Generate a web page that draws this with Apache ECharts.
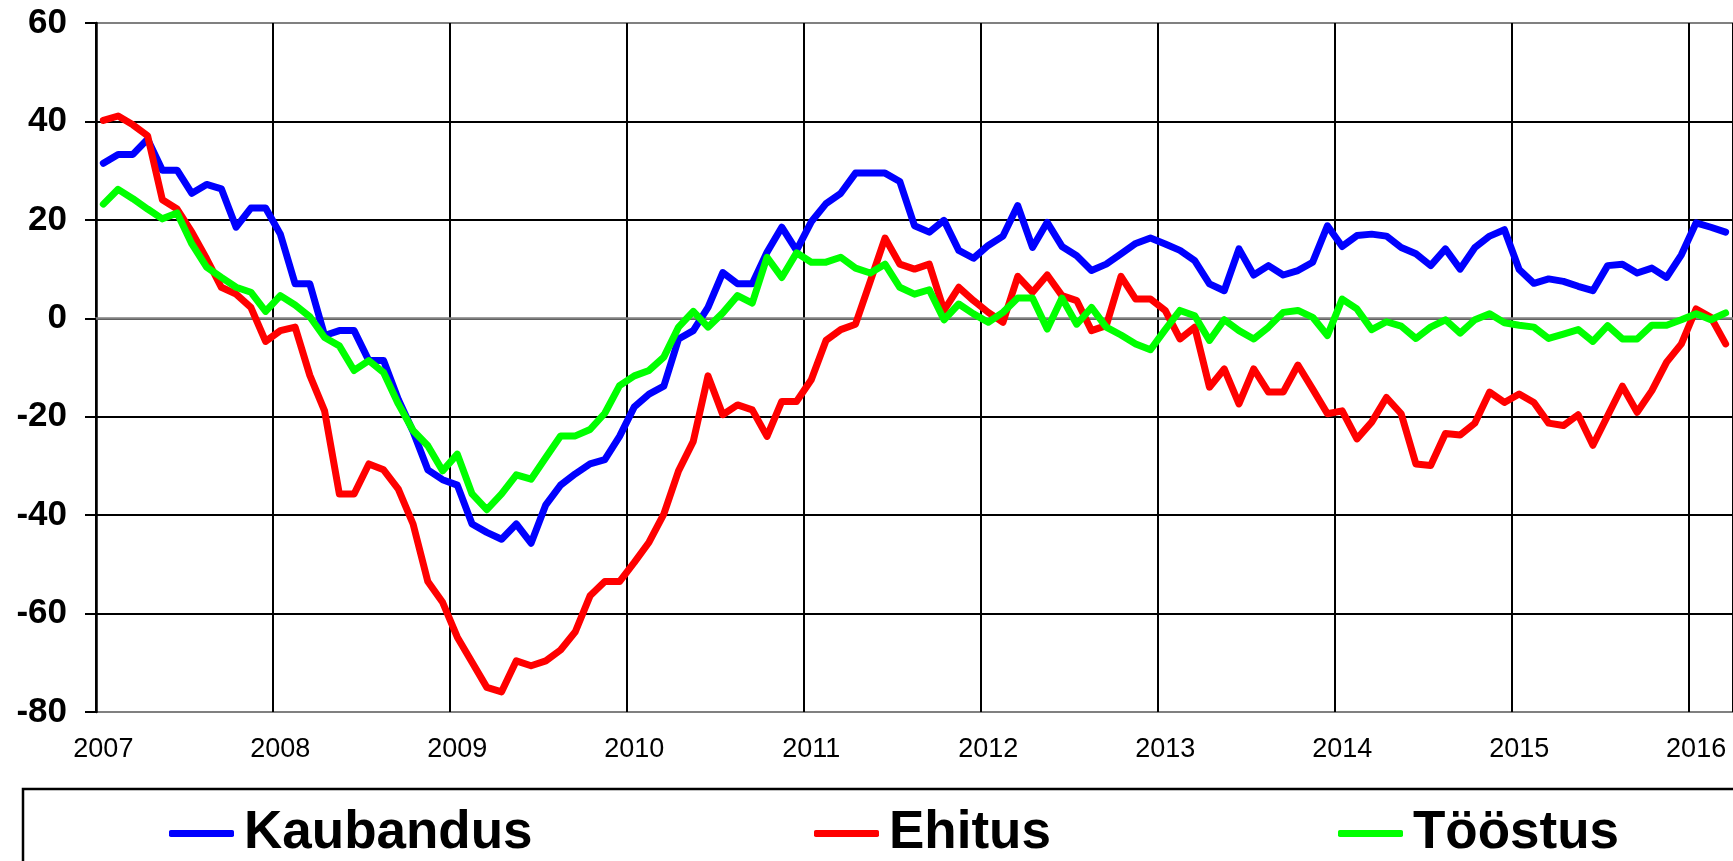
<!DOCTYPE html>
<html>
<head>
<meta charset="utf-8">
<script src="https://cdn.jsdelivr.net/npm/echarts@6/dist/echarts.min.js"></script>
<style>
  html, body { margin: 0; padding: 0; background: #fff; }
  #chart { width: 1733px; height: 861px; }
</style>
</head>
<body>
<div id="chart"></div>
<script>
  // kuud 2007 jaanuar ... 2016 märts
  const years = ['2007', '2008', '2009', '2010', '2011', '2012', '2013', '2014', '2015', '2016']
  const months = ['01', '02', '03', '04', '05', '06', '07', '08', '09', '10', '11', '12']
  const lastMonthCount = 3

  const kaubandus = [
    31.5, 33.3, 33.3, 36.4, 30.1, 30.1, 25.4, 27.2, 26.3, 18.5, 22.4, 22.4,
    17.1, 7.0, 7.0, -3.5, -2.5, -2.5, -8.6, -8.6, -16.5, -23, -30.8, -32.8,
    -33.9, -41.8, -43.5, -44.9, -41.8, -45.7, -37.9, -33.9, -31.6, -29.6, -28.7, -24.0,
    -18.0, -15.4, -13.8, -4.2, -2.5, 2.2, 9.3, 7.0, 7.0, 13.4, 18.5, 13.8,
    19.6, 23.3, 25.4, 29.5, 29.5, 29.5, 27.8, 18.8, 17.5, 19.9, 13.8, 12.2,
    14.8, 16.7, 22.9, 14.4, 19.5, 14.6, 12.7, 9.7, 11.0, 13.1, 15.2, 16.3,
    15.1, 13.8, 11.7, 7.0, 5.6, 14.1, 8.8, 10.7, 8.8, 9.7, 11.4, 18.8,
    14.6, 16.8, 17.1, 16.7, 14.4, 13.1, 10.7, 14.1, 10.0, 14.4, 16.7, 18.0,
    9.9, 7.1, 8.0, 7.5, 6.5, 5.6, 10.7, 11.0, 9.2, 10.2, 8.3, 12.9,
    19.4, 18.5, 17.5
  ]
  const ehitus = [
    40.2, 41.1, 39.3, 37.1, 24.1, 22.2, 17.5, 12.1, 6.3, 4.9, 2.2, -4.7,
    -2.5, -1.8, -11.6, -18.8, -35.7, -35.7, -29.6, -30.8, -34.7, -41.8, -53.5, -57.7,
    -64.8, -69.9, -75.0, -75.9, -69.6, -70.6, -69.6, -67.4, -63.7, -56.4, -53.5, -53.5,
    -49.6, -45.5, -39.8, -31.0, -25.0, -11.7, -19.6, -17.6, -18.6, -24.0, -16.9, -16.9,
    -12.5, -4.5, -2.3, -1.2, 7.5, 16.3, 11.0, 10.0, 11.0, 1.6, 6.3, 3.6,
    1.2, -0.8, 8.5, 5.3, 8.8, 4.6, 3.6, -2.5, -1.5, 8.5, 3.9, 3.9,
    1.6, -4.2, -1.8, -14.0, -10.3, -17.4, -10.3, -15.0, -15.0, -9.5, -14.4, -19.4,
    -18.8, -24.5, -21.1, -16.1, -19.4, -29.6, -29.9, -23.4, -23.7, -21.3, -15.0, -17.1,
    -15.4, -17.1, -21.3, -21.8, -19.6, -25.8, -19.8, -13.8, -19.1, -14.7, -8.9, -5.2,
    1.9, 0.2, -5.2
  ]
  const toostus = [
    23.2, 26.2, 24.3, 22.2, 20.2, 21.4, 15.1, 10.4, 8.3, 6.3, 5.3, 1.4,
    4.6, 2.7, 0.3, -3.9, -5.6, -10.6, -8.6, -11.0, -17.4, -22.8, -25.9, -31.0,
    -27.6, -35.7, -38.9, -35.7, -31.8, -32.7, -28.3, -23.9, -23.9, -22.6, -19.3, -13.7,
    -11.7, -10.6, -7.9, -1.8, 1.4, -1.8, 1.1, 4.6, 3.1, 12.4, 8.3, 13.3,
    11.4, 11.4, 12.4, 10.2, 9.2, 11.0, 6.3, 4.9, 5.8, -0.3, 2.9, 0.9,
    -0.8, 1.2, 4.1, 4.1, -2.2, 4.1, -1.2, 2.2, -1.8, -3.4, -5.2, -6.4,
    -2.3, 1.6, 0.5, -4.5, -0.3, -2.5, -4.2, -1.8, 1.2, 1.6, 0.2, -3.5,
    3.9, 1.9, -2.3, -0.7, -1.6, -4.1, -1.8, -0.3, -3.0, -0.3, 0.9, -0.9,
    -1.4, -1.8, -4.1, -3.2, -2.3, -4.7, -1.5, -4.2, -4.2, -1.4, -1.4, -0.3,
    0.9, -0.3, 1.1
  ]

  const categories = []
  years.forEach((y, yi) => {
    const n = yi === years.length - 1 ? lastMonthCount : 12
    for (let m = 0; m < n; m++) {
      categories.push(y + '-' + months[m])
    }
  })

  const chart = echarts.init(document.getElementById('chart'))

  const legendText = {
    fontFamily: 'Liberation Sans, Arial, sans-serif',
    fontWeight: 'bold',
    fontSize: 53,
    color: '#000',
    padding: [0, 0, 0, 5]
  }
  function legendAt(name, left) {
    return {
      data: [name],
      left: left,
      top: 802,
      icon: 'roundRect',
      itemWidth: 65,
      itemHeight: 7,
      textStyle: legendText,
      selectedMode: false
    }
  }

  const seriesLine = (name, data, color) => ({
    name: name,
    type: 'line',
    symbol: 'none',
    data: data,
    itemStyle: {color: color},
    lineStyle: {color: color, width: 7, join: 'round', cap: 'round'}
  })

  chart.setOption({
    animation: false,
    backgroundColor: '#fff',
    grid: {
      left: 96,
      right: -6,
      top: 23,
      bottom: 149
    },
    legend: [
      legendAt('Kaubandus', 164),
      legendAt('Ehitus', 809),
      legendAt('Tööstus', 1333)
    ],
    graphic: [
      {
        type: 'rect',
        shape: {x: 23, y: 789, width: 1800, height: 200},
        style: {fill: 'none', stroke: '#000', lineWidth: 2.5},
        silent: true
      }
    ],
    xAxis: {
      type: 'category',
      data: categories,
      boundaryGap: true,
      axisLine: {
        lineStyle: {color: '#808080', width: 2.5}
      },
      axisTick: {show: false},
      axisLabel: {
        interval: 11,
        margin: 24,
        fontFamily: 'Liberation Sans Narrow, Arial Narrow, Liberation Sans, sans-serif',
        fontSize: 27,
        color: '#000',
        formatter: v => v.slice(0, 4)
      },
      splitLine: {
        show: true,
        interval: 11,
        lineStyle: {color: '#000', width: 2}
      }
    },
    yAxis: {
      type: 'value',
      min: -80,
      max: 60,
      interval: 20,
      axisLine: {
        show: true,
        lineStyle: {color: '#000', width: 2.5}
      },
      axisTick: {
        show: true,
        length: 11,
        lineStyle: {color: '#000', width: 2}
      },
      axisLabel: {
        margin: 29,
        fontFamily: 'Liberation Sans, Arial, sans-serif',
        fontWeight: 'bold',
        fontSize: 35,
        color: '#000'
      },
      splitLine: {
        lineStyle: {
          color: ['#808080', '#000', '#000', '#000', '#000', '#000', '#000', '#808080'],
          width: 2
        }
      }
    },
    series: [
      seriesLine('Kaubandus', kaubandus, '#0000ff'),
      seriesLine('Ehitus', ehitus, '#ff0000'),
      seriesLine('Tööstus', toostus, '#00ff00')
    ]
  })
</script>
</body>
</html>
